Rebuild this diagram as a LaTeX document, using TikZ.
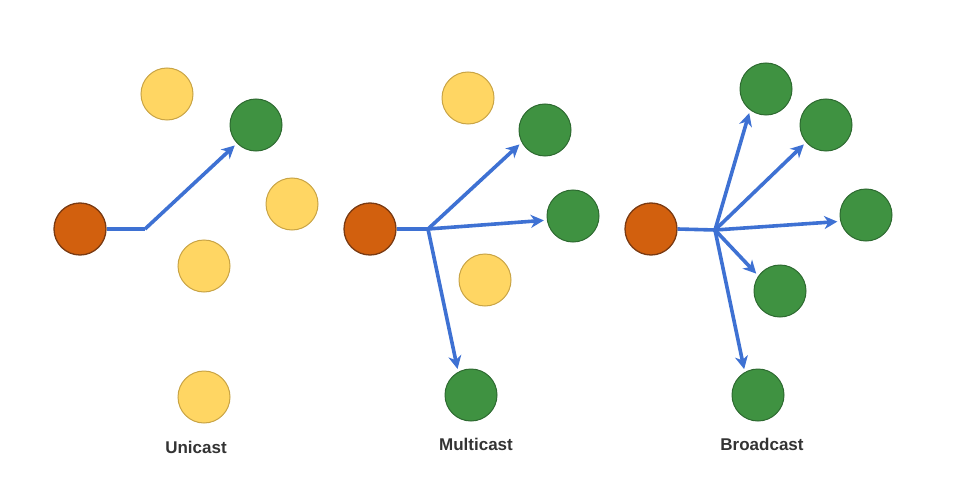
\documentclass[tikz,border=0pt]{standalone}
\usepackage{fontspec}
\setmainfont{Liberation Sans}
\usetikzlibrary{arrows.meta}
\definecolor{orfill}{HTML}{D2600E}
\definecolor{ordraw}{HTML}{7A3A12}
\definecolor{yefill}{HTML}{FFD663}
\definecolor{yedraw}{HTML}{C9A445}
\definecolor{grfill}{HTML}{3F9241}
\definecolor{grdraw}{HTML}{2D6A30}
\definecolor{arblue}{HTML}{3E71D3}
\definecolor{lbl}{HTML}{333333}
\tikzset{
  dot/.style={circle, minimum size=52pt, inner sep=0pt, line width=1pt},
  src/.style={dot, fill=orfill, draw=ordraw, line width=1.3pt},
  idle/.style={dot, fill=yefill, draw=yedraw},
  dest/.style={dot, fill=grfill, draw=grdraw},
  arr/.style={draw=arblue, line width=3.6pt, shorten >=3pt, -{Stealth[length=13pt,width=13pt,inset=4pt]}},
  wire/.style={draw=arblue, line width=3.6pt},
  caption/.style={font=\bfseries\fontsize{17}{20}\selectfont, text=lbl}
}
\begin{document}
\begin{tikzpicture}[x=1pt,y=-1pt]
\useasboundingbox (0,0) rectangle (958,484);
% Unicast
\node[src] (u0) at (80,229) {};
\node[idle] (uy1) at (167,94) {};
\node[dest] (ug) at (256,125) {};
\node[idle] (uy2) at (292,204) {};
\node[idle] (uy3) at (204,266) {};
\node[idle] (uy4) at (204,397) {};
\coordinate (ub) at (145,229);
\draw[wire] (u0.east) -- (ub);
\draw[arr] (ub) -- (ug.224);
\node[caption] (ul) at (196,447) {Unicast};
% Multicast
\node[src] (m0) at (370,229) {};
\node[idle] (my1) at (468,98) {};
\node[dest] (mg1) at (545,130) {};
\node[dest] (mg2) at (573,216) {};
\node[idle] (my2) at (485,280) {};
\node[dest] (mg3) at (471,395) {};
\coordinate (mb) at (428,229);
\draw[wire] (m0.east) -- (mb);
\draw[arr] (mb) -- (mg1.208);
\draw[arr] (mb) -- (mg2.189);
\draw[arr] (mb) -- (mg3.119);
\node[caption] (ml) at (476,444) {Multicast};
% Broadcast
\node[src] (b0) at (651,229) {};
\node[dest] (bg1) at (766,89) {};
\node[dest] (bg2) at (826,125) {};
\node[dest] (bg3) at (866,215) {};
\node[dest] (bg4) at (780,291) {};
\node[dest] (bg5) at (758,395) {};
\coordinate (bb) at (715,230);
\draw[wire] (b0.east) -- (bb);
\draw[arr] (bb) -- (bg1.233);
\draw[arr] (bb) -- (bg2.221);
\draw[arr] (bb) -- (bg3.194);
\draw[arr] (bb) -- (bg4.145);
\draw[arr] (bb) -- (bg5.120);
\node[caption] (bl) at (762,444) {Broadcast};
\end{tikzpicture}
\end{document}
